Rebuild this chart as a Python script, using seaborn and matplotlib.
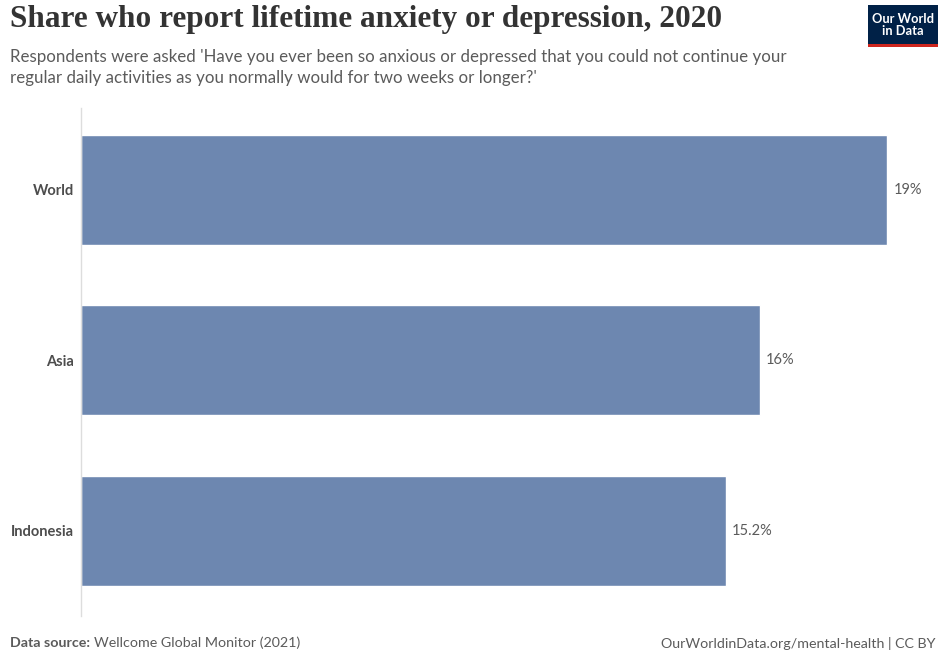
import matplotlib
matplotlib.use("Agg")
import matplotlib.pyplot as plt
import seaborn as sns
import pandas as pd
from matplotlib.patches import Rectangle

entities = ["World", "Asia", "Indonesia"]
shares = [19.0, 16.0, 15.2]
value_labels = ["19%", "16%", "15.2%"]

df = pd.DataFrame({"entity": entities, "share": shares})

sns.set_style("white")
plt.rcParams["font.family"] = ["Lato", "DejaVu Sans"]

W, H = 938, 654
fig = plt.figure(figsize=(W / 100, H / 100), dpi=100)

ax_left, ax_right, ax_top, ax_bottom = 81, 930, 108, 616
ax = fig.add_axes([ax_left / W, 1 - ax_bottom / H, (ax_right - ax_left) / W, (ax_bottom - ax_top) / H])

sns.barplot(data=df, x="share", y="entity", orient="h", color="#6D87B0",
            saturation=1, width=0.645, ax=ax)

px_per_unit = (887 - 81) / 19.0
ax.set_xlim(0, (ax_right - ax_left) / px_per_unit)
ax.set_ylim(2.5, -0.48)

for i, (v, lab) in enumerate(zip(shares, value_labels)):
    ax.text(v + 0.15, i, lab, va="center", ha="left", fontsize=10.5, color="#5b5b5b")

ax.set_xlabel("")
ax.set_ylabel("")
ax.set_xticks([])
ax.tick_params(axis="y", length=0, pad=5)
for lbl in ax.get_yticklabels():
    lbl.set_fontweight("bold")
    lbl.set_fontsize(10.5)
    lbl.set_color("#4d4d4d")
for s in ["top", "right", "bottom"]:
    ax.spines[s].set_visible(False)
ax.spines["left"].set_color("#dddddd")
ax.spines["left"].set_linewidth(1)

# Title and subtitle
fig.text(10 / W, 1 - 20 / H, "Share who report lifetime anxiety or depression, 2020",
         fontsize=22.5, fontweight="bold", family=["Liberation Serif", "DejaVu Serif"],
         color="#333333", va="center", ha="left")
fig.text(10 / W, 1 - 57 / H, "Respondents were asked 'Have you ever been so anxious or depressed that you could not continue your",
         fontsize=12.2, color="#5b5b5b", va="center", ha="left")
fig.text(10 / W, 1 - 78 / H, "regular daily activities as you normally would for two weeks or longer?'",
         fontsize=12.2, color="#5b5b5b", va="center", ha="left")

# Footer
t1 = fig.text(10 / W, 1 - 643 / H, "Data source:", fontsize=10.3, fontweight="bold", color="#5b5b5b",
              va="center", ha="left")
fig.canvas.draw()
bb = t1.get_window_extent(renderer=fig.canvas.get_renderer())
fig.text((bb.x1 + 4) / W, 1 - 643 / H, "Wellcome Global Monitor (2021)", fontsize=10.3, color="#5b5b5b",
         va="center", ha="left")
fig.text(935 / W, 1 - 643 / H, "OurWorldinData.org/mental-health | CC BY", fontsize=10.3,
         color="#5b5b5b", va="center", ha="right")

# Logo
fig.patches.append(Rectangle((868 / W, 1 - 45 / H), 70 / W, 40 / H, transform=fig.transFigure,
                             facecolor="#002147", edgecolor="none"))
fig.patches.append(Rectangle((868 / W, 1 - 47 / H), 70 / W, 3 / H, transform=fig.transFigure,
                             facecolor="#CE261E", edgecolor="none"))
fig.text(903 / W, 1 - 25 / H, "Our World\nin Data", fontsize=9.3, fontweight="bold",
         color="white", va="center", ha="center", linespacing=1.0)

fig.savefig("out.png", dpi=100)
